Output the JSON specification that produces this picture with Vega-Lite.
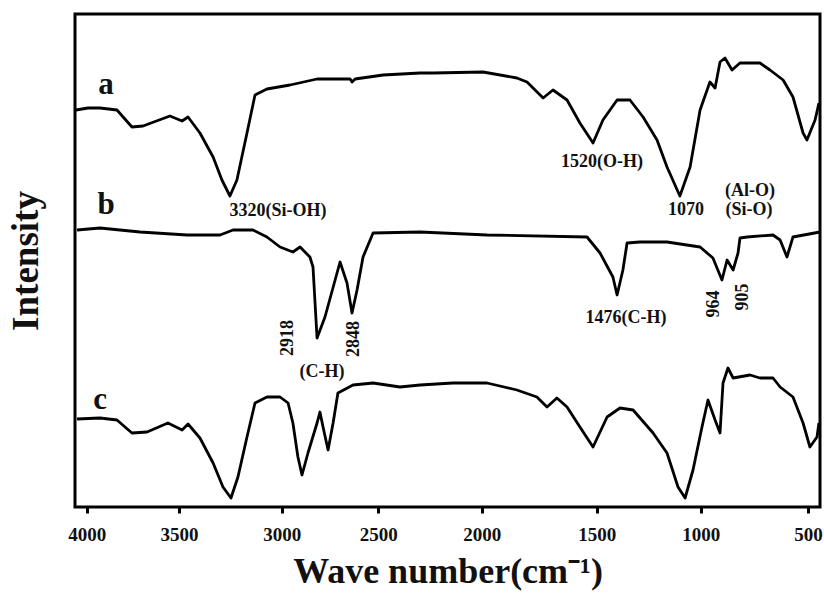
{
  "$schema": "https://vega.github.io/schema/vega-lite/v6.json",
  "width": 745,
  "height": 493,
  "autosize": "none",
  "padding": {"left": 75, "top": 14, "right": 4, "bottom": 93},
  "background": "white",
  "config": {"view": {"stroke": "#000", "strokeWidth": 3}, "font": "Liberation Serif"},
  "datasets": {
    "spectra": [
      {"series": "a", "wn": 4058, "v": 397}, {"series": "a", "wn": 3993, "v": 399}, {"series": "a", "wn": 3928, "v": 399},
      {"series": "a", "wn": 3836, "v": 397}, {"series": "a", "wn": 3755, "v": 380}, {"series": "a", "wn": 3695, "v": 381},
      {"series": "a", "wn": 3549, "v": 391}, {"series": "a", "wn": 3485, "v": 386}, {"series": "a", "wn": 3456, "v": 390},
      {"series": "a", "wn": 3398, "v": 374}, {"series": "a", "wn": 3334, "v": 350}, {"series": "a", "wn": 3291, "v": 327},
      {"series": "a", "wn": 3252, "v": 311}, {"series": "a", "wn": 3218, "v": 327}, {"series": "a", "wn": 3169, "v": 374},
      {"series": "a", "wn": 3130, "v": 412}, {"series": "a", "wn": 3072, "v": 418}, {"series": "a", "wn": 2957, "v": 422},
      {"series": "a", "wn": 2817, "v": 428}, {"series": "a", "wn": 2646, "v": 428}, {"series": "a", "wn": 2636, "v": 425},
      {"series": "a", "wn": 2620, "v": 428}, {"series": "a", "wn": 2477, "v": 432}, {"series": "a", "wn": 2298, "v": 434},
      {"series": "a", "wn": 2235, "v": 434}, {"series": "a", "wn": 1994, "v": 435}, {"series": "a", "wn": 1847, "v": 429},
      {"series": "a", "wn": 1803, "v": 425}, {"series": "a", "wn": 1733, "v": 409}, {"series": "a", "wn": 1690, "v": 417},
      {"series": "a", "wn": 1629, "v": 407}, {"series": "a", "wn": 1573, "v": 384}, {"series": "a", "wn": 1516, "v": 364},
      {"series": "a", "wn": 1470, "v": 387}, {"series": "a", "wn": 1402, "v": 407}, {"series": "a", "wn": 1340, "v": 407},
      {"series": "a", "wn": 1277, "v": 390}, {"series": "a", "wn": 1210, "v": 367}, {"series": "a", "wn": 1162, "v": 340},
      {"series": "a", "wn": 1100, "v": 311}, {"series": "a", "wn": 1051, "v": 340}, {"series": "a", "wn": 1003, "v": 397},
      {"series": "a", "wn": 957, "v": 425}, {"series": "a", "wn": 933, "v": 419}, {"series": "a", "wn": 910, "v": 445},
      {"series": "a", "wn": 887, "v": 449}, {"series": "a", "wn": 854, "v": 437}, {"series": "a", "wn": 817, "v": 444},
      {"series": "a", "wn": 724, "v": 444}, {"series": "a", "wn": 677, "v": 437}, {"series": "a", "wn": 616, "v": 427},
      {"series": "a", "wn": 570, "v": 410}, {"series": "a", "wn": 523, "v": 374}, {"series": "a", "wn": 505, "v": 367},
      {"series": "a", "wn": 467, "v": 387}, {"series": "a", "wn": 449, "v": 404},

      {"series": "b", "wn": 4052, "v": 277}, {"series": "b", "wn": 3928, "v": 279}, {"series": "b", "wn": 3711, "v": 275},
      {"series": "b", "wn": 3461, "v": 272}, {"series": "b", "wn": 3300, "v": 272}, {"series": "b", "wn": 3237, "v": 277},
      {"series": "b", "wn": 3140, "v": 277}, {"series": "b", "wn": 3072, "v": 270}, {"series": "b", "wn": 3008, "v": 260},
      {"series": "b", "wn": 2942, "v": 255}, {"series": "b", "wn": 2905, "v": 260}, {"series": "b", "wn": 2854, "v": 250},
      {"series": "b", "wn": 2838, "v": 240}, {"series": "b", "wn": 2817, "v": 169}, {"series": "b", "wn": 2776, "v": 190},
      {"series": "b", "wn": 2698, "v": 245}, {"series": "b", "wn": 2662, "v": 224}, {"series": "b", "wn": 2636, "v": 194},
      {"series": "b", "wn": 2610, "v": 217}, {"series": "b", "wn": 2579, "v": 250}, {"series": "b", "wn": 2527, "v": 274},
      {"series": "b", "wn": 2298, "v": 275}, {"series": "b", "wn": 1977, "v": 272}, {"series": "b", "wn": 1542, "v": 270},
      {"series": "b", "wn": 1484, "v": 254}, {"series": "b", "wn": 1422, "v": 230}, {"series": "b", "wn": 1402, "v": 212},
      {"series": "b", "wn": 1374, "v": 237}, {"series": "b", "wn": 1354, "v": 264}, {"series": "b", "wn": 1292, "v": 265},
      {"series": "b", "wn": 1162, "v": 265}, {"series": "b", "wn": 1003, "v": 260}, {"series": "b", "wn": 943, "v": 249},
      {"series": "b", "wn": 901, "v": 227}, {"series": "b", "wn": 877, "v": 247}, {"series": "b", "wn": 849, "v": 237},
      {"series": "b", "wn": 826, "v": 254}, {"series": "b", "wn": 817, "v": 269}, {"series": "b", "wn": 784, "v": 270},
      {"series": "b", "wn": 663, "v": 272}, {"series": "b", "wn": 630, "v": 267}, {"series": "b", "wn": 598, "v": 250},
      {"series": "b", "wn": 570, "v": 270}, {"series": "b", "wn": 444, "v": 275},

      {"series": "c", "wn": 4052, "v": 88}, {"series": "c", "wn": 3928, "v": 89}, {"series": "c", "wn": 3836, "v": 87},
      {"series": "c", "wn": 3755, "v": 74}, {"series": "c", "wn": 3673, "v": 75}, {"series": "c", "wn": 3560, "v": 84},
      {"series": "c", "wn": 3485, "v": 77}, {"series": "c", "wn": 3456, "v": 83}, {"series": "c", "wn": 3398, "v": 69},
      {"series": "c", "wn": 3334, "v": 44}, {"series": "c", "wn": 3286, "v": 20}, {"series": "c", "wn": 3247, "v": 9},
      {"series": "c", "wn": 3213, "v": 30}, {"series": "c", "wn": 3169, "v": 70}, {"series": "c", "wn": 3130, "v": 104},
      {"series": "c", "wn": 3072, "v": 110}, {"series": "c", "wn": 3008, "v": 110}, {"series": "c", "wn": 2967, "v": 104},
      {"series": "c", "wn": 2942, "v": 84}, {"series": "c", "wn": 2916, "v": 50}, {"series": "c", "wn": 2895, "v": 32},
      {"series": "c", "wn": 2864, "v": 54}, {"series": "c", "wn": 2817, "v": 84}, {"series": "c", "wn": 2802, "v": 95},
      {"series": "c", "wn": 2786, "v": 80}, {"series": "c", "wn": 2760, "v": 57}, {"series": "c", "wn": 2734, "v": 84},
      {"series": "c", "wn": 2709, "v": 114}, {"series": "c", "wn": 2631, "v": 122}, {"series": "c", "wn": 2527, "v": 124},
      {"series": "c", "wn": 2395, "v": 120}, {"series": "c", "wn": 2298, "v": 122}, {"series": "c", "wn": 2139, "v": 124},
      {"series": "c", "wn": 1977, "v": 124}, {"series": "c", "wn": 1847, "v": 117}, {"series": "c", "wn": 1760, "v": 110},
      {"series": "c", "wn": 1716, "v": 100}, {"series": "c", "wn": 1673, "v": 109}, {"series": "c", "wn": 1629, "v": 100},
      {"series": "c", "wn": 1573, "v": 80}, {"series": "c", "wn": 1516, "v": 60}, {"series": "c", "wn": 1450, "v": 90},
      {"series": "c", "wn": 1388, "v": 99}, {"series": "c", "wn": 1325, "v": 97}, {"series": "c", "wn": 1229, "v": 74},
      {"series": "c", "wn": 1162, "v": 54}, {"series": "c", "wn": 1109, "v": 20}, {"series": "c", "wn": 1075, "v": 9},
      {"series": "c", "wn": 1037, "v": 37}, {"series": "c", "wn": 994, "v": 80}, {"series": "c", "wn": 966, "v": 107},
      {"series": "c", "wn": 933, "v": 87}, {"series": "c", "wn": 910, "v": 74}, {"series": "c", "wn": 896, "v": 124},
      {"series": "c", "wn": 873, "v": 139}, {"series": "c", "wn": 849, "v": 129}, {"series": "c", "wn": 770, "v": 132},
      {"series": "c", "wn": 724, "v": 129}, {"series": "c", "wn": 663, "v": 129}, {"series": "c", "wn": 630, "v": 120},
      {"series": "c", "wn": 570, "v": 110}, {"series": "c", "wn": 523, "v": 84}, {"series": "c", "wn": 491, "v": 60},
      {"series": "c", "wn": 458, "v": 70}, {"series": "c", "wn": 449, "v": 84}
    ],
    "notes": [
      {"label": "3320(Si-OH)", "wn": 3018, "v": 296},
      {"label": "1520(O-H)", "wn": 1475, "v": 345},
      {"label": "(Al-O)", "wn": 770, "v": 316},
      {"label": "1070", "wn": 1071, "v": 297},
      {"label": "(Si-O)", "wn": 775, "v": 297},
      {"label": "(C-H)", "wn": 2791, "v": 135},
      {"label": "1476(C-H)", "wn": 1359, "v": 189}
    ],
    "rotated": [
      {"label": "2918", "wn": 2967, "v": 169},
      {"label": "2848", "wn": 2626, "v": 168},
      {"label": "964", "wn": 938, "v": 203},
      {"label": "905", "wn": 803, "v": 210}
    ],
    "letters": [
      {"label": "a", "wn": 3895, "v": 422},
      {"label": "b", "wn": 3895, "v": 302},
      {"label": "c", "wn": 3927, "v": 107}
    ]
  },
  "encoding": {
    "x": {
      "field": "wn",
      "type": "quantitative",
      "scale": {
        "domain": [4063, 4000, 3500, 3000, 2500, 2000, 1500, 1000, 500, 444],
        "range": [0, 11.7, 104, 206.7, 303.3, 406.7, 521.7, 625.7, 733, 745],
        "nice": false,
        "zero": false
      },
      "axis": {
        "title": "Wave number(cm⁻¹)",
        "values": [4000, 3500, 3000, 2500, 2000, 1500, 1000, 500],
        "format": "d",
        "grid": false,
        "domain": false,
        "tickSize": 6,
        "tickWidth": 3,
        "tickColor": "#000",
        "labelFont": "Liberation Serif",
        "labelFontSize": 19,
        "labelFontWeight": "bold",
        "labelColor": "#111",
        "labelPadding": 12,
        "labelFlush": false,
        "titleFont": "Liberation Serif",
        "titleFontSize": 36,
        "titleFontWeight": "bold",
        "titleColor": "#111",
        "titlePadding": 10
      }
    },
    "y": {
      "field": "v",
      "type": "quantitative",
      "scale": {"domain": [0, 493], "nice": false, "zero": false},
      "axis": {
        "title": "Intensity",
        "labels": false,
        "ticks": false,
        "domain": false,
        "grid": false,
        "titleFont": "Liberation Serif",
        "titleFontSize": 37,
        "titleFontWeight": "bold",
        "titleColor": "#111",
        "titlePadding": 30
      }
    }
  },
  "layer": [
    {
      "data": {"name": "spectra"},
      "mark": {"type": "line", "color": "#000", "strokeWidth": 2.8, "strokeJoin": "round"},
      "encoding": {"detail": {"field": "series"}}
    },
    {
      "data": {"name": "notes"},
      "mark": {"type": "text", "font": "Liberation Serif", "fontWeight": "bold", "fontSize": 18, "color": "#111", "align": "center", "baseline": "middle"},
      "encoding": {"text": {"field": "label"}}
    },
    {
      "data": {"name": "rotated"},
      "mark": {"type": "text", "font": "Liberation Serif", "fontWeight": "bold", "fontSize": 18, "color": "#111", "align": "center", "baseline": "middle", "angle": 270},
      "encoding": {"text": {"field": "label"}}
    },
    {
      "data": {"name": "letters"},
      "mark": {"type": "text", "font": "Liberation Serif", "fontWeight": "bold", "fontSize": 31, "color": "#111", "align": "center", "baseline": "middle"},
      "encoding": {"text": {"field": "label"}}
    }
  ]
}
